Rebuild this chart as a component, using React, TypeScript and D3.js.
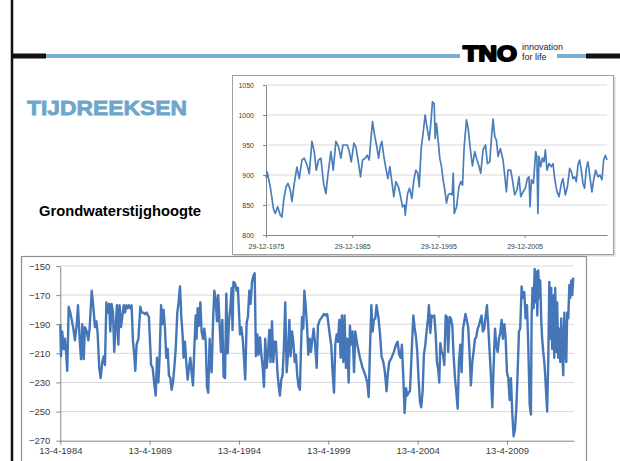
import { useEffect, useRef } from "react";
import * as d3 from "d3";

// top chart: Grondwaterstijghoogte 1975-2015
const topYears = [
  1976.0, 1976.12, 1976.3, 1976.49, 1976.88, 1977.07, 1977.34, 1977.65, 1977.84, 1978.04,
  1978.31, 1978.54, 1978.81, 1979.0, 1979.27, 1979.58, 1979.85, 1980.16, 1980.43, 1980.74,
  1981.01, 1981.32, 1981.59, 1981.82, 1982.09, 1982.36, 1982.67, 1982.94, 1983.17, 1983.52,
  1983.79, 1984.1, 1984.41, 1984.68, 1984.91, 1985.18, 1985.41, 1985.65, 1985.88, 1986.19,
  1986.42, 1986.73, 1986.96, 1987.19, 1987.5, 1987.73, 1987.96, 1988.12, 1988.35, 1988.58,
  1988.85, 1989.05, 1989.24, 1989.43, 1989.66, 1989.9, 1990.13, 1990.36, 1990.59, 1990.82,
  1991.05, 1991.36, 1991.56, 1991.83, 1992.06, 1992.14, 1992.41, 1992.64, 1992.91, 1993.14,
  1993.37, 1993.6, 1993.76, 1993.99, 1994.26, 1994.45, 1994.65, 1994.92, 1995.15, 1995.3,
  1995.5, 1995.62, 1995.77, 1995.96, 1996.15, 1996.35, 1996.54, 1996.73, 1996.93, 1997.12,
  1997.4, 1997.59, 1997.71, 1997.83, 1998.1, 1998.37, 1998.6, 1998.79, 1998.98, 1999.25,
  1999.44, 1999.71, 1999.94, 2000.21, 2000.47, 2000.71, 2000.9, 2001.17, 2001.45, 2001.68,
  2001.95, 2002.14, 2002.33, 2002.53, 2002.72, 2002.91, 2003.18, 2003.49, 2003.68, 2003.88,
  2004.07, 2004.38, 2004.58, 2004.84, 2005.11, 2005.34, 2005.54, 2005.81, 2006.08, 2006.31,
  2006.5, 2006.62, 2006.78, 2007.01, 2007.28, 2007.41, 2007.54, 2007.66, 2007.86, 2008.05,
  2008.24, 2008.4, 2008.59, 2008.82, 2009.1, 2009.29, 2009.48, 2009.75, 2009.98, 2010.26,
  2010.44, 2010.72, 2010.95, 2011.22, 2011.41, 2011.6, 2011.79, 2011.99, 2012.18, 2012.37,
  2012.57, 2012.76, 2012.95, 2013.15, 2013.34, 2013.57, 2013.8, 2014.0, 2014.23, 2014.5,
  2014.73, 2014.96, 2015.16, 2015.36, 2015.55,
];
const topLevels = [
  895, 905, 893, 880, 842, 836, 847, 833, 830, 858,
  880, 886, 875, 856, 886, 913, 894, 925, 928, 917,
  902, 956, 939, 908, 925, 928, 886, 869, 900, 939,
  908, 956, 947, 928, 950, 950, 950, 939, 922, 953,
  947, 919, 897, 925, 928, 933, 925, 953, 989, 967,
  947, 928, 947, 956, 931, 911, 894, 914, 889, 864,
  889, 880, 867, 847, 850, 833, 869, 878, 861, 892,
  908, 903, 880, 944, 975, 1000, 981, 958, 992, 1022,
  1019, 961, 986, 958, 928, 914, 892, 875, 853, 867,
  869, 867, 903, 836, 847, 880, 889, 883, 947, 992,
  978, 942, 915, 939, 925, 914, 903, 942, 950, 919,
  922, 961, 993, 964, 958, 931, 944, 925, 900, 872,
  908, 908, 892, 867, 875, 897, 864, 872, 878, 894,
  897, 847, 892, 886, 939, 931, 836, 931, 914, 928,
  922, 942, 908, 919, 914, 919, 894, 872, 864, 886,
  894, 867, 880, 911, 906, 894, 897, 889, 917, 925,
  908, 886, 878, 911, 922, 897, 872, 892, 908, 897,
  900, 892, 925, 933, 925,
];
const topTickDates = ["1975-12-29", "1985-12-29", "1995-12-29", "2005-12-29"];
const topTickLabels = ["29-12-1975", "29-12-1985", "29-12-1995", "29-12-2005"];
const topYTicks = [800, 850, 900, 950, 1000, 1050];

// bottom chart: 1984-2013
const bottomYears = [
  1984.28, 1984.32, 1984.39, 1984.47, 1984.54, 1984.6, 1984.67, 1984.75, 1984.84, 1984.92,
  1985.01, 1985.1, 1985.2, 1985.27, 1985.36, 1985.44, 1985.51, 1985.59, 1985.66, 1985.76,
  1985.85, 1985.92, 1986.04, 1986.13, 1986.22, 1986.3, 1986.37, 1986.46, 1986.54, 1986.63,
  1986.71, 1986.78, 1986.86, 1986.93, 1987.01, 1987.08, 1987.15, 1987.23, 1987.3, 1987.38,
  1987.45, 1987.53, 1987.6, 1987.68, 1987.75, 1987.83, 1987.9, 1987.98, 1988.05, 1988.12,
  1988.2, 1988.27, 1988.35, 1988.42, 1988.48, 1988.55, 1988.65, 1988.76, 1988.83, 1988.93,
  1989.02, 1989.11, 1989.24, 1989.36, 1989.45, 1989.54, 1989.62, 1989.69, 1989.77, 1989.84,
  1989.92, 1989.99, 1990.06, 1990.14, 1990.21, 1990.29, 1990.36, 1990.44, 1990.51, 1990.59,
  1990.66, 1990.74, 1990.83, 1990.9, 1990.98, 1991.05, 1991.13, 1991.18, 1991.26, 1991.33,
  1991.41, 1991.48, 1991.56, 1991.63, 1991.71, 1991.78, 1991.86, 1991.91, 1991.97, 1992.04,
  1992.12, 1992.19, 1992.27, 1992.34, 1992.42, 1992.49, 1992.56, 1992.64, 1992.69, 1992.75,
  1992.83, 1992.9, 1992.97, 1993.05, 1993.12, 1993.2, 1993.27, 1993.35, 1993.42, 1993.5,
  1993.57, 1993.65, 1993.72, 1993.81, 1993.87, 1993.92, 1993.97, 1994.06, 1994.15, 1994.22,
  1994.28, 1994.34, 1994.41, 1994.49, 1994.56, 1994.63, 1994.71, 1994.78, 1994.86, 1994.93,
  1995.01, 1995.08, 1995.16, 1995.23, 1995.31, 1995.38, 1995.46, 1995.53, 1995.61, 1995.68,
  1995.75, 1995.83, 1995.9, 1995.98, 1996.05, 1996.13, 1996.2, 1996.28, 1996.35, 1996.43,
  1996.5, 1996.57, 1996.65, 1996.72, 1996.8, 1996.87, 1996.95, 1997.02, 1997.1, 1997.17,
  1997.25, 1997.32, 1997.4, 1997.47, 1997.54, 1997.62, 1997.69, 1997.75, 1997.81, 1997.88,
  1997.94, 1998.01, 1998.09, 1998.16, 1998.24, 1998.31, 1998.38, 1998.46, 1998.53, 1998.63,
  1998.7, 1998.81, 1998.93, 1999.04, 1999.15, 1999.22, 1999.34, 1999.45, 1999.52, 1999.6,
  1999.67, 1999.75, 1999.82, 1999.9, 1999.97, 2000.04, 2000.12, 2000.19, 2000.27, 2000.34,
  2000.42, 2000.49, 2000.57, 2000.64, 2000.72, 2000.79, 2000.9, 2001.05, 2001.2, 2001.35,
  2001.46, 2001.54, 2001.61, 2001.69, 2001.76, 2001.83, 2001.91, 2001.98, 2002.08, 2002.17,
  2002.26, 2002.36, 2002.45, 2002.54, 2002.62, 2002.69, 2002.82, 2002.95, 2003.07, 2003.16,
  2003.25, 2003.33, 2003.4, 2003.48, 2003.55, 2003.63, 2003.7, 2003.77, 2003.85, 2003.91,
  2003.98, 2004.04, 2004.11, 2004.19, 2004.26, 2004.33, 2004.41, 2004.48, 2004.56, 2004.63,
  2004.71, 2004.78, 2004.86, 2004.91, 2004.99, 2005.06, 2005.14, 2005.21, 2005.29, 2005.36,
  2005.44, 2005.49, 2005.55, 2005.62, 2005.7, 2005.77, 2005.85, 2005.92, 2005.99, 2006.07,
  2006.14, 2006.22, 2006.29, 2006.37, 2006.44, 2006.52, 2006.59, 2006.67, 2006.74, 2006.82,
  2006.89, 2006.96, 2007.04, 2007.11, 2007.19, 2007.26, 2007.34, 2007.41, 2007.49, 2007.56,
  2007.64, 2007.71, 2007.79, 2007.86, 2007.93, 2008.01, 2008.08, 2008.16, 2008.23, 2008.31,
  2008.38, 2008.46, 2008.53, 2008.61, 2008.68, 2008.76, 2008.83, 2008.9, 2008.98, 2009.05,
  2009.13, 2009.2, 2009.28, 2009.35, 2009.43, 2009.5, 2009.58, 2009.65, 2009.73, 2009.8,
  2009.87, 2009.95, 2010.02, 2010.1, 2010.17, 2010.25, 2010.32, 2010.4, 2010.47, 2010.55,
  2010.62, 2010.66, 2010.71, 2010.77, 2010.83, 2010.88, 2010.92, 2010.98, 2011.03, 2011.09,
  2011.14, 2011.2, 2011.25, 2011.31, 2011.37, 2011.42, 2011.48, 2011.53, 2011.59, 2011.65,
  2011.7, 2011.76, 2011.81, 2011.87, 2011.93, 2011.98, 2012.04, 2012.09, 2012.15, 2012.21,
  2012.26, 2012.32, 2012.37, 2012.43, 2012.49, 2012.54, 2012.6, 2012.65, 2012.71, 2012.77,
  2012.82, 2012.88, 2012.93, 2012.99,
];
const bottomLevels = [
  -190, -212, -195, -207, -200, -209, -222, -178, -182, -187,
  -193, -201, -190, -177, -200, -214, -190, -214, -192, -195,
  -201, -193, -167, -178, -192, -188, -196, -220, -227, -216,
  -212, -218, -175, -182, -176, -195, -176, -182, -209, -191,
  -177, -204, -177, -192, -185, -177, -182, -177, -179, -177,
  -179, -177, -202, -211, -222, -204, -200, -178, -182, -182,
  -183, -182, -185, -218, -220, -231, -239, -213, -230, -212,
  -177, -190, -180, -193, -213, -207, -225, -227, -235, -230,
  -220, -207, -182, -175, -164, -184, -198, -213, -202, -216,
  -228, -220, -213, -223, -232, -207, -184, -200, -179, -191,
  -175, -195, -200, -193, -202, -233, -237, -200, -216, -223,
  -188, -167, -172, -188, -170, -191, -209, -187, -226, -227,
  -169, -210, -188, -177, -165, -194, -161, -162, -167, -165,
  -181, -197, -192, -200, -213, -228, -189, -185, -167, -176,
  -161, -157, -155, -212, -197, -211, -199, -210, -220, -233,
  -200, -220, -211, -194, -216, -188, -216, -202, -202, -222,
  -232, -239, -228, -225, -204, -175, -223, -211, -187, -212,
  -195, -202, -216, -211, -225, -233, -235, -207, -185, -193,
  -167, -177, -191, -211, -200, -209, -201, -193, -202, -220,
  -191, -187, -185, -183, -184, -183, -195, -205, -223, -237,
  -204, -197, -202, -187, -213, -184, -216, -184, -220, -200,
  -230, -191, -204, -195, -223, -195, -204, -213, -220, -225,
  -230, -240, -208, -177, -195, -187, -186, -177, -185, -196,
  -212, -216, -223, -236, -223, -216, -213, -209, -204, -202,
  -211, -213, -204, -227, -251, -234, -239, -237, -236, -220,
  -200, -184, -192, -199, -209, -227, -243, -247, -236, -211,
  -204, -195, -186, -177, -196, -184, -185, -184, -197, -216,
  -222, -230, -203, -209, -211, -218, -184, -185, -209, -185,
  -186, -191, -211, -227, -236, -248, -216, -204, -223, -193,
  -188, -183, -188, -192, -211, -232, -216, -209, -200, -199,
  -193, -191, -187, -184, -195, -193, -185, -177, -191, -209,
  -225, -247, -220, -193, -204, -209, -200, -196, -187, -200,
  -190, -199, -223, -227, -242, -227, -252, -267, -262, -248,
  -225, -195, -193, -164, -172, -168, -186, -177, -204, -245,
  -252, -184, -165, -179, -152, -175, -154, -184, -153, -172,
  -160, -188, -200, -209, -216, -225, -239, -250, -216, -161,
  -200, -165, -207, -170, -213, -165, -209, -175, -213, -193,
  -216, -186, -209, -225, -182, -207, -216, -182, -186, -163,
  -172, -160, -170, -158,
];
const bottomTickDates = ["1984-04-13", "1989-04-13", "1994-04-13", "1999-04-13", "2004-04-13", "2009-04-13"];
const bottomTickLabels = ["13-4-1984", "13-4-1989", "13-4-1994", "13-4-1999", "13-4-2004", "13-4-2009"];
const bottomYTicks = [-270, -250, -230, -210, -190, -170, -150];

// decimal year -> Date
const toDate = (y: number) => {
  const yr = Math.floor(y);
  const a = Date.UTC(yr, 0, 1);
  const b = Date.UTC(yr + 1, 0, 1);
  return new Date(a + (y - yr) * (b - a));
};
const parseDay = d3.utcParse("%Y-%m-%d");

const App = () => {
  const svgRef = useRef<SVGSVGElement>(null);

  useEffect(() => {
    const svg = d3.select(svgRef.current);
    svg.selectAll("*").remove();

    svg.append("rect").attr("width", 620).attr("height", 461).attr("fill", "#fff");

    // slide border + header band
    svg.append("line").attr("x1", 12).attr("x2", 12).attr("y1", 0).attr("y2", 461)
      .attr("stroke", "#111").attr("stroke-width", 2.5);
    svg.append("line").attr("x1", 12).attr("x2", 46).attr("y1", 56).attr("y2", 56)
      .attr("stroke", "#111").attr("stroke-width", 5);
    svg.append("line").attr("x1", 46).attr("x2", 460).attr("y1", 56).attr("y2", 56)
      .attr("stroke", "#7aaed0").attr("stroke-width", 4);
    svg.append("line").attr("x1", 557).attr("x2", 586).attr("y1", 56).attr("y2", 56)
      .attr("stroke", "#7aaed0").attr("stroke-width", 4);
    svg.append("line").attr("x1", 586).attr("x2", 620).attr("y1", 56).attr("y2", 56)
      .attr("stroke", "#111").attr("stroke-width", 5);

    // logo
    svg.append("text").attr("x", 463).attr("y", 61).text("TNO")
      .attr("textLength", 54).attr("lengthAdjust", "spacingAndGlyphs")
      .attr("stroke", "#000").attr("stroke-width", 2).attr("stroke-linejoin", "round")
      .style("font", "bold 22px 'Liberation Sans', Arial, sans-serif").attr("fill", "#000");
    svg.append("text").attr("x", 522).attr("y", 49.5).text("innovation")
      .style("font", "9px 'Liberation Sans', Arial, sans-serif").attr("fill", "#222");
    svg.append("text").attr("x", 522).attr("y", 59.5).text("for life")
      .style("font", "9px 'Liberation Sans', Arial, sans-serif").attr("fill", "#222");

    svg.append("text").attr("x", 27).attr("y", 114.5).text("TIJDREEKSEN")
      .attr("textLength", 160).attr("lengthAdjust", "spacingAndGlyphs")
      .attr("stroke", "#6ea5ca").attr("stroke-width", 0.8)
      .style("font", "bold 21px 'Liberation Sans', Arial, sans-serif").attr("fill", "#6ea5ca");
    svg.append("text").attr("x", 39).attr("y", 215.5).text("Grondwaterstijghoogte")
      .attr("textLength", 162).attr("lengthAdjust", "spacingAndGlyphs")
      .style("font", "bold 14px 'Liberation Sans', Arial, sans-serif").attr("fill", "#000");

    const styleAxis = (ax: d3.Selection<SVGGElement, unknown, null, undefined>, font: string) => {
      ax.select(".domain").attr("stroke", "#868686");
      ax.selectAll(".tick line").attr("stroke", "#868686");
      ax.selectAll(".tick text").attr("fill", "#404040").style("font", font);
    };

    // ---------- top chart ----------
    svg.append("rect").attr("x", 233.5).attr("y", 76.5).attr("width", 382).attr("height", 180)
      .attr("fill", "#d8d8d8");
    svg.append("rect").attr("x", 232.5).attr("y", 75.5).attr("width", 381).attr("height", 179)
      .attr("fill", "#fff").attr("stroke", "#a0a0a0");

    const xTop = d3.scaleUtc()
      .domain([parseDay(topTickDates[0])!, toDate(2015.55)])
      .range([266, 607]);
    const yTop = d3.scaleLinear().domain([800, 1050]).range([235, 85]);

    svg.append("g").selectAll("line").data(topYTicks.slice(1)).join("line")
      .attr("x1", 266).attr("x2", 607)
      .attr("y1", (d) => yTop(d)).attr("y2", (d) => yTop(d))
      .attr("stroke", "#d9d9d9");

    const topLeft = svg.append("g").attr("transform", "translate(266,0)")
      .call(d3.axisLeft(yTop).tickValues(topYTicks).tickFormat(d3.format("d"))
        .tickSize(3).tickSizeOuter(0).tickPadding(9));
    styleAxis(topLeft, "7px 'Liberation Sans', Arial, sans-serif");

    const topBottom = svg.append("g").attr("transform", "translate(0,235)")
      .call(d3.axisBottom(xTop)
        .tickValues(topTickDates.map((d) => parseDay(d)!))
        .tickFormat((_d, i) => topTickLabels[i])
        .tickSize(3).tickSizeOuter(0).tickPadding(6));
    styleAxis(topBottom, "7px 'Liberation Sans', Arial, sans-serif");

    const topLine = d3.line<number>()
      .x((_d, i) => xTop(toDate(topYears[i])))
      .y((d) => yTop(d));
    svg.append("path").datum(topLevels).attr("d", topLine)
      .attr("fill", "none").attr("stroke", "#4a7ebb").attr("stroke-width", 1.7)
      .attr("stroke-linejoin", "round");

    // ---------- bottom chart ----------
    svg.append("rect").attr("x", 21.5).attr("y", 256.5).attr("width", 565).attr("height", 220)
      .attr("fill", "#fff").attr("stroke", "#8f8f8f").attr("stroke-width", 1.2);

    const xBot = d3.scaleUtc()
      .domain([parseDay(bottomTickDates[0])!, toDate(2013.03)])
      .range([60.3, 574]);
    const yBot = d3.scaleLinear().domain([-270, -150]).range([440.7, 266]);

    svg.append("g").selectAll("line").data(bottomYTicks.slice(1)).join("line")
      .attr("x1", 60.3).attr("x2", 574)
      .attr("y1", (d) => yBot(d)).attr("y2", (d) => yBot(d))
      .attr("stroke", "#d9d9d9");

    const botLeft = svg.append("g").attr("transform", "translate(60.3,0)")
      .call(d3.axisLeft(yBot).tickValues(bottomYTicks).tickSize(4).tickSizeOuter(0).tickPadding(6));
    styleAxis(botLeft, "9.5px 'Liberation Sans', Arial, sans-serif");

    const botBottom = svg.append("g").attr("transform", "translate(0,440.7)")
      .call(d3.axisBottom(xBot)
        .tickValues(bottomTickDates.map((d) => parseDay(d)!))
        .tickFormat((_d, i) => bottomTickLabels[i])
        .tickSize(4).tickSizeOuter(0).tickPadding(3));
    styleAxis(botBottom, "9.5px 'Liberation Sans', Arial, sans-serif");

    const botLine = d3.line<number>()
      .x((_d, i) => xBot(toDate(bottomYears[i])))
      .y((d) => yBot(d));
    svg.append("path").datum(bottomLevels).attr("d", botLine)
      .attr("fill", "none").attr("stroke", "#4577b8").attr("stroke-width", 2.4)
      .attr("stroke-linejoin", "round");
  }, []);

  return (
    <div style={{ position: "absolute", left: 0, top: 0 }}>
      <svg ref={svgRef} width={620} height={461} style={{ display: "block" }} />
    </div>
  );
};

export default App;
